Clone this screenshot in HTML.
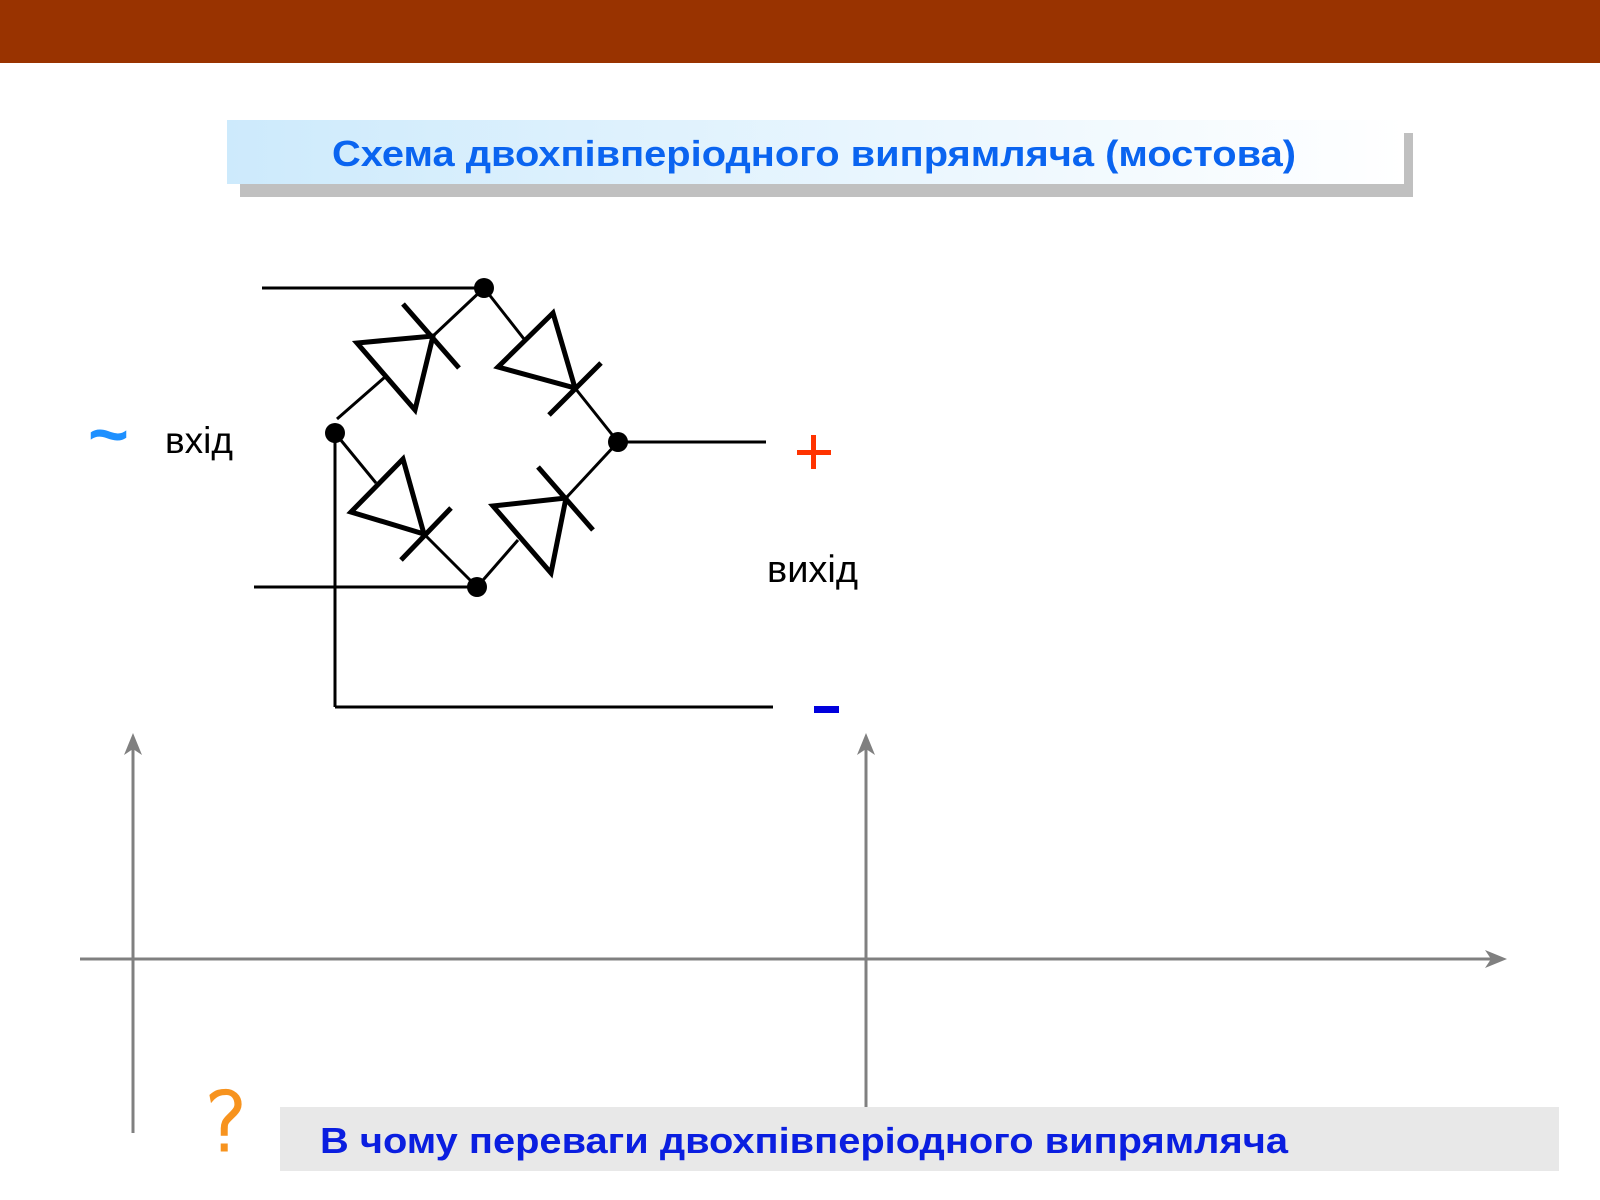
<!DOCTYPE html>
<html><head><meta charset="utf-8"><style>
html,body{margin:0;padding:0;background:#fff;}
svg{display:block;}
</style></head><body>
<svg width="1600" height="1200" viewBox="0 0 1600 1200" xmlns="http://www.w3.org/2000/svg" font-family="Liberation Sans, sans-serif">
<defs>
<linearGradient id="tg" x1="0" x2="1" y1="0" y2="0">
<stop offset="0" stop-color="#cdeafc"/><stop offset="1" stop-color="#ffffff"/>
</linearGradient>
</defs>
<rect x="0" y="0" width="1600" height="63" fill="#993300"/>
<rect x="240" y="133" width="1173" height="64" fill="#c0c0c0"/>
<rect x="227" y="120" width="1177" height="64" fill="url(#tg)"/>
<text x="332" y="166" font-size="36" font-weight="bold" fill="#0a64f0" textLength="964" lengthAdjust="spacingAndGlyphs">Схема двохпівперіодного випрямляча (мостова)</text>

<g stroke="#000" stroke-width="3" fill="none">
<line x1="262" y1="288" x2="484" y2="288"/>
<line x1="254" y1="587" x2="477" y2="587"/>
<line x1="335" y1="433" x2="335" y2="707"/>
<line x1="335" y1="707" x2="773" y2="707"/>
<line x1="618" y1="442" x2="766" y2="442"/>
<line x1="337" y1="419" x2="385" y2="377"/>
<line x1="433" y1="336" x2="484" y2="288"/>
<line x1="484" y1="288" x2="524" y2="339"/>
<line x1="575" y1="388" x2="618" y2="442"/>
<line x1="335" y1="433" x2="376" y2="483"/>
<line x1="424" y1="534" x2="477" y2="587"/>
<line x1="477" y1="587" x2="518" y2="540"/>
<line x1="566" y1="498" x2="618" y2="442"/>
</g>
<g stroke="#000" stroke-width="5" fill="none" stroke-linejoin="miter">
<polygon points="357,343 415,410 433,336"/>
<line x1="403" y1="304" x2="459" y2="368"/>
<polygon points="553,313 498,367 575,388"/>
<line x1="601" y1="363" x2="549" y2="415"/>
<polygon points="403,459 351,512 424,534"/>
<line x1="451" y1="508" x2="401" y2="560"/>
<polygon points="493,506 551,573 566,498"/>
<line x1="538" y1="467" x2="593" y2="530"/>
</g>
<g fill="#000">
<circle cx="484" cy="288" r="10"/>
<circle cx="335" cy="433" r="10"/>
<circle cx="618" cy="442" r="10"/>
<circle cx="477" cy="587" r="10"/>
</g>

<text x="88" y="458" font-size="70" font-weight="bold" fill="#1e90ff">~</text>
<text x="165" y="453" font-size="37" fill="#000">вхід</text>
<rect x="797" y="450" width="34" height="5" fill="#ff3300"/>
<rect x="811" y="435" width="5" height="34" fill="#ff3300"/>
<text x="767" y="582" font-size="38" fill="#000">вихід</text>
<rect x="814" y="706" width="25" height="7" fill="#0000dd"/>

<g stroke="#808080" stroke-width="3" fill="none">
<line x1="133" y1="742" x2="133" y2="1133"/>
<line x1="866" y1="742" x2="866" y2="1107"/>
<line x1="80" y1="959" x2="1500" y2="959"/>
</g>
<g fill="#808080">
<polygon points="133,733 124,755 133,749 142,755"/>
<polygon points="866,733 857,755 866,749 875,755"/>
<polygon points="1507,959 1485,950 1491,959 1485,968"/>
</g>

<rect x="280" y="1107" width="1279" height="64" fill="#e8e8e8"/>
<text x="320" y="1153" font-size="36" font-weight="bold" fill="#0a1ee0" textLength="968" lengthAdjust="spacingAndGlyphs">В чому переваги двохпівперіодного випрямляча</text>
<text x="205" y="1150" font-size="80" fill="#f7931e" stroke="#f7931e" stroke-width="3" font-family="DejaVu Sans, sans-serif" font-weight="300">?</text>
</svg>
</body></html>
